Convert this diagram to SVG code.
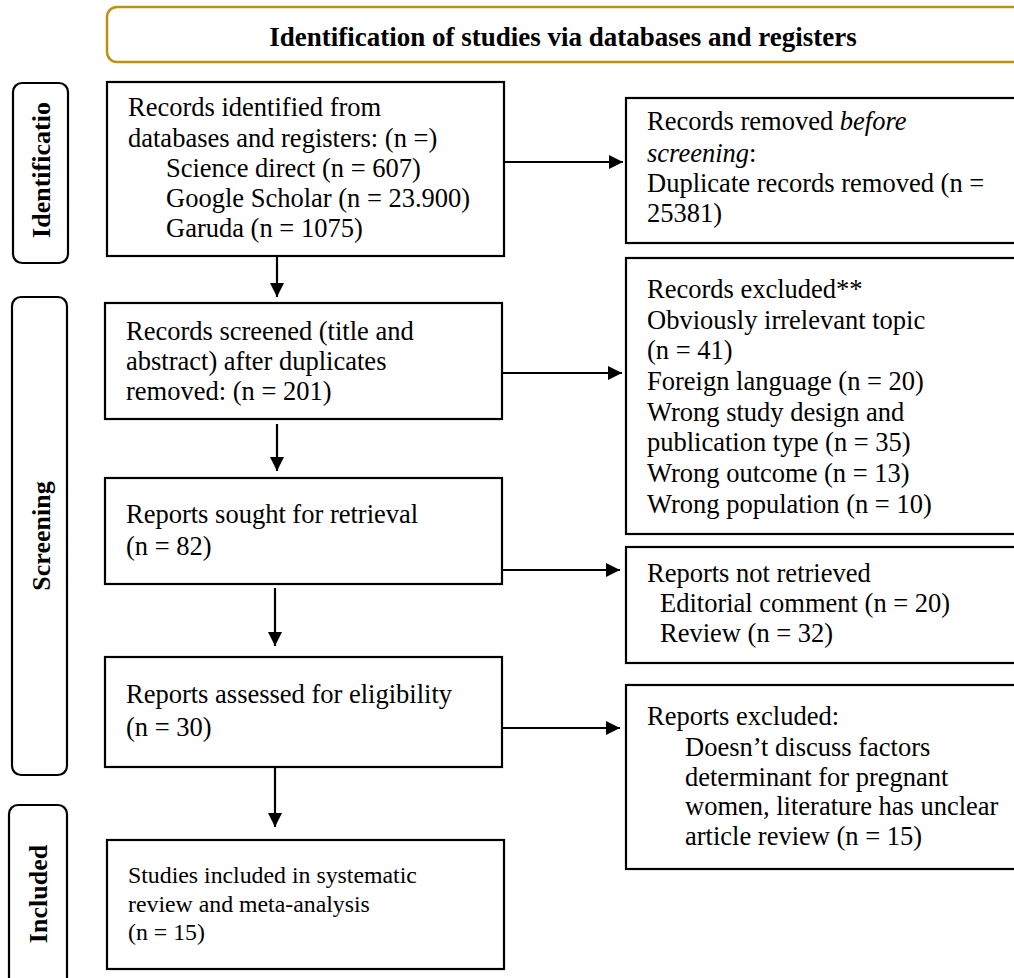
<svg xmlns="http://www.w3.org/2000/svg" width="1014" height="978" viewBox="0 0 1014 978">
<defs>
<marker id="ah" markerUnits="userSpaceOnUse" markerWidth="14" markerHeight="14" viewBox="0 0 14 14" refX="14" refY="7" orient="auto">
<path d="M0,0 L14,7 L0,14 Z" fill="#000"/>
</marker>
</defs>
<style>
.box{fill:#fff;stroke:#000;stroke-width:2.2}
.side{fill:#fff;stroke:#000;stroke-width:2.2}
.t{font-family:"Liberation Serif","Times New Roman",serif;font-size:26.5px;fill:#000}
.s{font-family:"Liberation Serif","Times New Roman",serif;font-size:23.8px;fill:#000}
.b{font-family:"Liberation Serif","Times New Roman",serif;font-size:26px;font-weight:bold;fill:#000}
.c{stroke:#000;stroke-width:2.2;fill:none;marker-end:url(#ah)}
</style>
<rect width="1014" height="978" fill="#fff"/>

<g id="title">
<rect x="107" y="7" width="930" height="55" rx="10" fill="#fff" stroke="#C09010" stroke-width="2.5"/>
<text class="b" x="563" y="46" text-anchor="middle" style="font-size:27px">Identification of studies via databases and registers</text>
</g>

<g id="lbl-identification">
<rect class="side" x="13" y="83" width="55" height="180" rx="9"/>
<text class="b" transform="translate(50,170) rotate(-90)" text-anchor="middle">Identificatio</text>
</g>
<g id="lbl-screening">
<rect class="side" x="12" y="297" width="55" height="478" rx="9"/>
<text class="b" transform="translate(50,536) rotate(-90)" text-anchor="middle">Screening</text>
</g>
<g id="lbl-included">
<rect class="side" x="9" y="805" width="58" height="190" rx="9"/>
<text class="b" transform="translate(47,894) rotate(-90)" text-anchor="middle">Included</text>
</g>

<g id="n-identified">
<rect class="box" x="107" y="82" width="397" height="174"/>
<text class="t" x="128" y="116">Records identified from</text>
<text class="t" x="128" y="147">databases and registers: (n =)</text>
<text class="t" x="166" y="177">Science direct (n = 607)</text>
<text class="t" x="166" y="207">Google Scholar (n = 23.900)</text>
<text class="t" x="166" y="237">Garuda (n = 1075)</text>
</g>

<g id="n-removed">
<rect class="box" x="626" y="98" width="420" height="145"/>
<text class="t" x="647" y="130">Records removed <tspan font-style="italic">before</tspan></text>
<text class="t" x="647" y="162"><tspan font-style="italic">screening</tspan>:</text>
<text class="t" x="647" y="192">Duplicate records removed  (n =</text>
<text class="t" x="647" y="222">25381)</text>
</g>

<g id="n-screened">
<rect class="box" x="105" y="303" width="397" height="116"/>
<text class="t" x="126" y="340">Records screened (title and</text>
<text class="t" x="126" y="370">abstract) after duplicates</text>
<text class="t" x="126" y="400">removed: (n = 201)</text>
</g>

<g id="n-excluded">
<rect class="box" x="626" y="258" width="420" height="276"/>
<text class="t" x="647" y="298">Records excluded**</text>
<text class="t" x="647" y="329">Obviously irrelevant topic</text>
<text class="t" x="647" y="359">(n = 41)</text>
<text class="t" x="647" y="390">Foreign language (n = 20)</text>
<text class="t" x="647" y="421">Wrong study design and</text>
<text class="t" x="647" y="451">publication type (n = 35)</text>
<text class="t" x="647" y="482">Wrong outcome (n = 13)</text>
<text class="t" x="647" y="513">Wrong population (n = 10)</text>
</g>

<g id="n-sought">
<rect class="box" x="105" y="478" width="397" height="106"/>
<text class="t" x="126" y="523">Reports sought for retrieval</text>
<text class="t" x="126" y="555">(n = 82)</text>
</g>

<g id="n-notretrieved">
<rect class="box" x="626" y="547" width="420" height="116"/>
<text class="t" x="647" y="582">Reports not retrieved</text>
<text class="t" x="660" y="612">Editorial comment (n = 20)</text>
<text class="t" x="660" y="642">Review (n = 32)</text>
</g>

<g id="n-assessed">
<rect class="box" x="105" y="657" width="397" height="110"/>
<text class="t" x="126" y="703">Reports assessed for eligibility</text>
<text class="t" x="126" y="736">(n = 30)</text>
</g>

<g id="n-reportsexcluded">
<rect class="box" x="626" y="685" width="420" height="184"/>
<text class="t" x="647" y="725">Reports excluded:</text>
<text class="t" x="685" y="756">Doesn’t discuss factors</text>
<text class="t" x="685" y="786">determinant for pregnant</text>
<text class="t" x="685" y="815">women, literature has unclear</text>
<text class="t" x="685" y="845">article review  (n = 15)</text>
</g>

<g id="n-included">
<rect class="box" x="107" y="840" width="397" height="129"/>
<text class="s" x="128" y="883">Studies included in systematic</text>
<text class="s" x="128" y="912">review and meta-analysis</text>
<text class="s" x="128" y="940">(n = 15)</text>
</g>

<g id="connectors">
<line class="c" x1="277" y1="257" x2="277" y2="297"/>
<line class="c" x1="277" y1="424" x2="277" y2="471"/>
<line class="c" x1="275" y1="588" x2="275" y2="646"/>
<line class="c" x1="275" y1="768" x2="275" y2="827"/>
<line class="c" x1="505" y1="162" x2="623" y2="162"/>
<line class="c" x1="503" y1="373" x2="622" y2="373"/>
<line class="c" x1="503" y1="570" x2="620" y2="570"/>
<line class="c" x1="503" y1="728" x2="620" y2="728"/>
</g>
</svg>
